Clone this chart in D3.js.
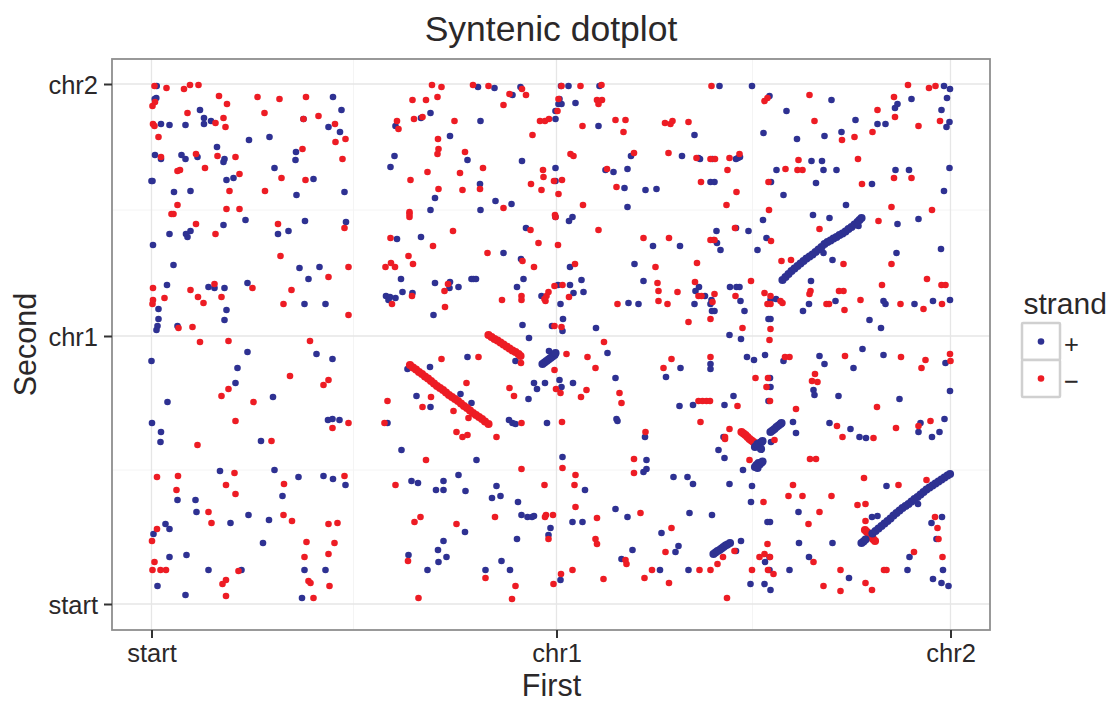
<!DOCTYPE html>
<html>
<head>
<meta charset="utf-8">
<script src="https://d3js.org/d3.v7.min.js"></script>
<style>
body { margin: 0; background: #fff; }
text { font-family: "Liberation Sans", Arial, sans-serif; }
</style>
</head>
<body>
<script>
const w = 1111
const h = 702

const xTickValues = [0, 405, 799]
const xTickLabels = ["start", "chr1", "chr2"]
const xMinorValues = [202, 601]
const yTickValues = [0, 268, 520]
const yTickLabels = ["start", "chr1", "chr2"]
const yMinorValues = [134, 394]
const strandLabels = ["+", "\u2212"]

// scattered hits, [first, second]
const plusHits = [
[5.2,518],[4.8,506],[3.2,505],[48.5,494],[52.5,486],[59.5,483],[52.5,480],[9.5,480],[18,479],[34,479],[152,485],[190,494],[181.5,507],[177,477],[188.5,472],[97.5,464],[118,467],[65.5,457],[3.5,449],[9.5,445],[30,449],[34,445],[46,447],[73,445],[72,442],[144.5,452],[144,444],[123,436],[75,424],[82,426],[162,425],[0,423],[1,423],[22.5,412],[39,413],[145,409],[193,412],[94,384],[72,379],[153.5,383],[194.5,382],[137,373],[126.5,370],[39,373],[18,370],[34.5,370],[36,367],[1.5,359],[22,339],[148,336],[168,337],[157,325],[15.5,319],[57,317],[63,316],[73,316],[96,321],[7,295],[75,294],[153,300],[174,300],[7,285],[73,284],[6,278],[5,274],[26,278],
[326.5,517],[343,516],[369,517],[361,509],[417,518],[409.5,518],[448,518],[408,505],[407,500],[410,500],[424,501],[404,493],[279,491],[269.5,486],[329,483],[404,485],[244,478],[447,478],[298.5,468],[243,448],[316,444],[370.5,443],[479.5,448],[530.5,448],[239,437],[404,436],[454,434],[462,432],[476,435],[404,423],[328.5,420],[473,416],[494,414],[505,415],[283.5,406],[344,403],[360,400],[279,394],[329,394],[476,397],[421,387],[417.5,383],[404,387],[374.5,376],[245.5,365],[269.5,367],[501.5,358],[528.5,358],[352,351],[369.5,345],[483,340],[418.5,337],[249.5,325],[320,325],[322,325],[324.5,325],[372,325],[430,324],[492,323],[283.5,321],[298.5,322],[298,316],[307,317],[365.5,317],[406.5,319],[418.5,319],[251,312],[261,311],[422,311],[432,312],[390,308],[234.5,308],[238.5,307],[244,306],[237,304],[409,300],[477,301],[487,300],[282,289],[411.5,285],[371,279],[400.5,278],[411,273],[444.5,276],[377.5,266],
[568,518],[600.5,518],[618,508],[680,504],[635,493],[746,500],[743.5,496],[760,505],[795.5,506],[798.5,515],[792.5,518],[790,494],[704,484],[726,480],[734,480],[798,482],[795,477],[612,471],[543,469],[645.5,465],[673,468],[690,472],[660,443],[670.5,443],[548.5,445],[547,446],[561,445],[584.5,445],[588.5,447],[586.5,446],[625,434],[672,434],[685,434],[744,434],[757.5,434],[798,436],[559,422],[563,422],[619.5,422],[664.5,421],[720.5,420],[792.5,413],[632,409],[694.5,399],[661.5,389],[678,386],[611.5,384],[767,385],[746,380],[584.5,376],[565,373],[597,373],[707,378],[615,366],[562,364],[565.5,361],[569,354],[606,354],[672,351],[745,351],[789.5,355],[681,344],[659.5,323],[547.5,317],[544,313],[578.5,317],[585,317],[588,317],[553.5,308],[560,304],[543,300],[589,303],[559,300],[619,304],[624.5,305],[657.5,300],[684,303],[732,303],[734,300],[763,300],[781.5,303],[798.5,304],[651.5,293],[593,293],[560.5,293],[563,293],[617,285],[619,285],[718,284],[729.5,276],[578,269],[589.5,265],
[96,252],[0,243],[86,236],[165,250],[181,245],[84,221],[121.5,207],[16,202],[0.5,181],[176.5,184],[181,185],[188,184],[9.5,172],[9,162],[109.5,163],[68.5,133],[123,134],[147,127],[172,128],[181.5,125],[194,119],[131,108],[26,104],[44,104],[45,92],[97,89],[117.5,84],[79,81],[14,80],[18,75],[2,70],[111.5,61],[35,49],[18,47],[57,34],[90,34],[153,34],[174,34],[6,18],[34,9],[150.5,6],
[316,247],[278.5,237],[256,235],[397.5,253],[456,251],[529,236],[514.5,227],[464,226],[408,224],[382.5,221],[393.5,221],[421.5,221],[410,217],[385.5,215],[265,208],[309,210],[377,205],[320,201],[279,197],[528,198],[465,185],[466,183],[357.5,184],[361,181],[364,180],[395.5,181],[236,181],[493.5,167],[250,154],[411,147],[495,144],[325,144],[495,135],[492,132],[307,129],[292,123],[260,123],[266.5,121],[522,127],[536,127],[345,118],[284.5,114],[292,114],[314,113],[433.5,114],[349,108],[340.5,106],[366.5,102],[464,95],[538,91],[370,89],[376,87],[380.5,87],[382.5,88],[476,87],[421,82],[431,82],[399,76],[313.5,72],[510,71],[397,69],[365.5,65],[292,63],[527,58],[286.5,54],[481,54],[524,52],[257,49],[295,47],[470,45],[350,43],[287,42],[276,34],[334,34],[358.5,34],[508.5,34],[537,34],[409,24],[364,243],[367,250],
[559,240],[559,235],[595.5,247],[602.5,244],[613.5,249],[632,243],[668,248],[673,240],[702,236],[711,255],[732,249],[794,241],[582,208],[618.5,226],[619,217],[662,214],[663,209],[687,208],[748,205],[798.5,213],[541.5,199],[573,199],[617,203],[641.5,182],[644.5,171],[678,181],[699,175],[708,167],[714.5,166],[767,172],[769,181],[780.5,167],[788,172],[793,185],[572,167],[567,154],[573,146],[619.5,162],[591.5,134],[541.5,120],[578,120],[600.5,118],[599.5,102],[647,92],[560.5,89],[618.5,82],[616,82],[735,118],[766.5,100],[720.5,87],[726,88],[790.5,87],[780,81],[785,65],[589.5,63],[647.5,61],[681,61],[584.5,53],[657.5,47],[758,47],[613.5,42],[618,47],[618,34],[638,34],[756,34],[791.5,34],[697.5,26],[599,20],[613,20],[619,14],[781.5,25],[790,21],[797,18]
]

const minusHits = [
[3,518],[15,516],[32.5,515],[38.5,519],[47,519],[67.5,508],[75.5,500],[106,507],[128,505],[154.5,507],[3.5,502],[1,498],[36,491],[113,491],[72,486],[64,481],[74,477],[1.5,480],[3,478],[152,485],[167,488],[183.5,480],[7,467],[184,462],[194,465],[44.5,450],[9.5,447],[66,448],[84,447],[151,455],[191,445],[53.5,436],[28.5,434],[26,433],[88,430],[130,426],[154,424],[78,413],[113.5,413],[26,399],[75,395],[88,395],[20,390],[22,390],[44.5,380],[126.5,380],[64,370],[193,376],[129,348],[197,337],[177,327],[1.5,316],[39,314],[63,320],[46.5,307],[70,307],[101,316],[140,314],[13,306],[1.5,304],[1,300],[52,301],[132,300],[197,289],[41,277],[27,276],
[280.5,519],[290,517],[321.5,519],[337,518],[370.5,515],[358,510],[374.5,509],[410,518],[429,518],[450,519],[286,507],[261,504],[274.5,504],[352,499],[407,505],[445.5,504],[450.5,504],[447,500],[406,493],[262.5,485],[271,487],[245.5,483],[247,475],[303,483],[388.5,483],[393.5,483],[397.5,485],[464,484],[474,484],[513.5,481],[519,480],[521,483],[537,482],[431,478],[472,472],[381,469],[286.5,465],[287,455],[286,450],[313.5,452],[419,450],[422,448],[482.5,451],[517,451],[331.5,436],[391.5,434],[392,427],[276,432],[308.5,431],[259,424],[455.5,435],[410.5,424],[402.5,423],[379.5,420],[287,415],[311,414],[328.5,415],[390,414],[407,410],[465,417],[352,396],[431.5,399],[258,392],[258,387],[258,390],[403.5,389],[404,387],[379,374],[447,374],[301.5,373],[239,366],[517.5,366],[492,366],[281.5,358],[387,361],[406.5,359],[336,351],[257,348],[239.5,341],[261.5,340],[234,337],[243.5,337],[371,343],[423.5,340],[382.5,337],[504,337],[506,321],[403,318],[411,319],[507,313],[526,312],[293,313],[296.5,320],[260.5,308],[397,312],[395,308],[393,305],[394,303],[370,308],[370,304],[350.5,304],[417.5,307],[507,303],[516,300],[466,300],[240.5,300],[293.5,297],[537,282],[403,278],[410,277],
[560,518],[756.5,519],[777.5,516],[784,518],[658,509],[616,506],[613,503],[742.5,507],[726,494],[743.5,487],[663,483],[788.5,483],[767,478],[721,472],[703,467],[690.5,464],[647,444],[706.5,445],[545,446],[559,445],[563.5,445],[578,446],[588,450],[576,434],[634,435],[646,434],[651,434],[549.5,422],[617,422],[742.5,426],[760,426],[710.5,420],[585,412],[575,399],[617.5,394],[740,397],[780.5,394],[727,383],[668,375],[583.5,376],[559,364],[563,364],[619.5,363],[630,343],[639.5,344],[692,340],[740,340],[545.5,341],[543.5,322],[599.5,323],[775.5,325],[790,319],[794,319],[730.5,319],[659,313],[658,310],[687.5,313],[692,313],[613,311],[619,308],[563,310],[584,308],[547,308],[550,308],[616,300],[619,300],[629,303],[631,301],[561,302],[675,300],[677.5,300],[709,304],[749,300],[772,295],[790.5,300],[693,294],[559,285],[591,276],[619,275],[618,264],
[48.5,262],[77,263],[158.5,263],[138.5,228],[177,224],[172,219],[77,215],[70,208],[102,202],[84,183],[197,181],[181,176],[120,163],[46,159],[193,128],[83,131],[5.5,127],[26.5,128],[74.5,119],[132.5,120],[25,114],[84,110],[57,92],[132,89],[60,81],[140.5,83],[177,80],[186,81],[5.5,75],[0.5,63],[155,62],[183,61],[177,50],[153,47],[3,42],[1,34],[9,34],[14.5,34],[87,33],[74.5,24],[71,20],[157,23],[159,21],[178,18],[74.5,8],[162,6],
[290,245],[327,247],[415,250],[436,247],[444,236],[520,245],[512,236],[403,234],[468,211],[470,201],[315,221],[358,216],[404.5,215],[409,211],[435,214],[429.5,207],[362.5,208],[279.5,207],[236,203],[271,197],[302,193],[317,186],[370,181],[410.5,182],[233,181],[494,172],[305,172],[311,167],[316,169],[345,167],[274.5,144],[482.5,145],[370,135],[411,136],[482.5,131],[424,129],[244,119],[393,119],[423,119],[424,97],[489,91],[343.5,87],[269,87],[263,82],[305,80],[394.5,89],[393.5,87],[401.5,89],[445.5,86],[520,76],[397,65],[444,65],[445.5,60],[514,52],[256.5,43],[474,44],[475,40],[421,34],[409.5,30],[500.5,34],[334,26],[452,25],[493,26],[364,18],[517.5,21],[402,20],[267,6],[360.5,5],[452.5,262],[369.5,241],
[559,247],[633.5,247],[638,247],[693.5,248],[749.5,247],[774,244],[798.5,250],[799,243],[770,236],[663.5,230],[660.5,223],[666,222],[604,226],[616.5,226],[615,217],[618.5,203],[547,203],[551,203],[555,203],[558.5,203],[586,198],[725.5,197],[644.5,195],[549,182],[578,175],[573.5,167],[573.5,165],[685.5,178],[691,167],[722,166],[744.5,176],[767,178],[779,183],[623,164],[598,144],[658.5,145],[664.5,145],[712.5,126],[775,124],[747,119],[641.5,119],[637,108],[651,108],[680,108],[612,102],[706,99],[714,100],[668,92],[657,80],[783.5,87],[714,83],[786,76],[787,65],[616,60],[762.5,52],[791,47],[571.5,47],[608,47],[613,50],[618.5,47],[662,42],[583,53],[566,40],[548,34],[559,34],[600.5,34],[616.5,34],[689,34],[732.5,34],[735,34],[622,30],[672,18],[714,21],[689,13],[720.5,14],[575.5,6]
]

// syntenic runs, these read as thick lines
const minusRuns = [
[258.5,239],[261.5,236.5],[264.5,234.5],[267.5,232],[270.5,230],[273.5,227.5],[276.5,225.5],[279.5,223],[282.5,220.5],[285.5,218],[288.5,216],[291.5,214],[294.5,211.5],[297.5,209],[300.5,207],[303.5,205],[306.5,203],[309.5,200.5],[312.5,198],[315.5,196],[318.5,193.5],[321.5,191],[324.5,189],[327.5,187],[330.5,185],[333.5,182.5],[337,180],
[337,269],[340,267],[343,265],[346,263.5],[349,261.5],[352,259.5],[355,257.5],[358,255.5],[361,253.5],[364,252],[367,250],[369,248],
[590,172],[592,170.5],[594,169],[596,167],[598,165],[600,163.5],[602,162],[604,160],
[713.5,74],[715.5,72],[717.5,70],[719.5,67.5],[721.5,65],[723.5,63]
]

const plusRuns = [
[391,240],[393,241.5],[395,243],[397,244.5],[399,246],[401,247.5],[403,249],[404,251],
[603.5,157],[605,158],[607,159],[609.5,155],[606,160],[608,161],[610,162],[611,163],
[603.5,137],[606,136],[605,139],[607,141],[608.5,140],[610,141.5],[611,142.5],
[619,172],[621,173.5],[623,175],[625,177],[627,178.5],[629,180],[630,181],
[562,50],[564,51.5],[566,53],[568,54],[570,55.5],[572,57],[574,58.5],[576,59.5],[578.5,61],
[710,61],[712,62.5],[714,64.5],
[721,70.5],[724,73],[727,75.5],[730,78],[733,80.5],[736,83],[739,85.5],[742,88.5],[745,91],[748,93.5],[751,96],[754,98],[757,100],[760,102.5],[763,105],[766,107],[769,109.5],[772,112],[775,114.5],[778,116.5],[781,118.5],[784,120.5],[787,122.5],[790,124.5],[793,126.5],[796,128.5],[798.5,130],
[631,324],[634,327],[637,330],[640,333],[643,335.5],[646,338],[649,340.5],[652,343],[655,345.5],[658,347.5],[661,349.5],[664,352],[667,354.5],[670,357],[673,360],[676,362],[679,363.5],[682,365.5],[685,367],[688,369],[691,370.5],[694,372.5],[697,375],[700,377],[703,379.5],[706,382],[708,384],[710,386]
]

const plusColor = "#2e3192"
const minusColor = "#ed1c24"
const textColor = "#2b2829"
const dotR = 3.3
const runR = 4.1

const panel = {left: 112, right: 990, top: 59, bottom: 630}

const x = d3.scaleLinear().domain([0, 799]).range([151.5, 950.5])
const y = d3.scaleLinear().domain([0, 520]).range([604, 84])

const svg = d3.select("body").append("svg")
	.attr("width", w).attr("height", h)
	.style("display", "block")

// grid first, minor under major
svg.append("g").selectAll("line")
	.data(xMinorValues)
	.join("line")
	.attr("x1", d => x(d)).attr("x2", d => x(d))
	.attr("y1", panel.top).attr("y2", panel.bottom)
	.attr("stroke", "#f4f4f4").attr("stroke-width", 1)

svg.append("g").selectAll("line")
	.data(yMinorValues)
	.join("line")
	.attr("x1", panel.left).attr("x2", panel.right)
	.attr("y1", d => y(d)).attr("y2", d => y(d))
	.attr("stroke", "#f4f4f4").attr("stroke-width", 1)

svg.append("g").selectAll("line")
	.data(xTickValues)
	.join("line")
	.attr("x1", d => x(d)).attr("x2", d => x(d))
	.attr("y1", panel.top).attr("y2", panel.bottom)
	.attr("stroke", "#e6e6e6").attr("stroke-width", 1.3)

svg.append("g").selectAll("line")
	.data(yTickValues)
	.join("line")
	.attr("x1", panel.left).attr("x2", panel.right)
	.attr("y1", d => y(d)).attr("y2", d => y(d))
	.attr("stroke", "#e6e6e6").attr("stroke-width", 1.3)

function dots(data, color, r) {
	svg.append("g").selectAll("circle")
		.data(data)
		.join("circle")
		.attr("cx", d => x(d[0]))
		.attr("cy", d => y(d[1]))
		.attr("r", r)
		.attr("fill", color)
}

dots(plusHits, plusColor, dotR)
dots(minusHits, minusColor, dotR)
dots(minusRuns, minusColor, runR)
dots(plusRuns, plusColor, runR)

// panel border
svg.append("rect")
	.attr("x", panel.left).attr("y", panel.top)
	.attr("width", panel.right - panel.left)
	.attr("height", panel.bottom - panel.top)
	.attr("fill", "none")
	.attr("stroke", "#8e8e8e").attr("stroke-width", 1.8)

const xAxis = svg.append("g")
	.attr("transform", `translate(0,${panel.bottom})`)
	.call(d3.axisBottom(x)
		.tickValues(xTickValues)
		.tickFormat((d, i) => xTickLabels[i])
		.tickSize(8).tickPadding(6))

const yAxis = svg.append("g")
	.attr("transform", `translate(${panel.left},0)`)
	.call(d3.axisLeft(y)
		.tickValues(yTickValues)
		.tickFormat((d, i) => yTickLabels[i])
		.tickSize(8).tickPadding(6))

for (const axis of [xAxis, yAxis]) {
	axis.select(".domain").remove()
	axis.selectAll("line").attr("stroke", "#333").attr("stroke-width", 2)
	axis.selectAll("text")
		.attr("fill", textColor)
		.style("font-family", '"Liberation Sans", Arial, sans-serif')
		.style("font-size", "25.5px")
}
yAxis.selectAll("text").attr("dy", "0.38em")

svg.append("text")
	.text("Syntenic dotplot")
	.attr("x", 551).attr("y", 41)
	.attr("text-anchor", "middle")
	.attr("font-size", "35.5px")
	.attr("fill", textColor)

svg.append("text")
	.text("First")
	.attr("x", 551.5).attr("y", 696)
	.attr("text-anchor", "middle")
	.attr("font-size", "30.5px")
	.attr("fill", textColor)

svg.append("text")
	.text("Second")
	.attr("transform", "translate(36,344.5) rotate(-90)")
	.attr("text-anchor", "middle")
	.attr("font-size", "30.5px")
	.attr("fill", textColor)

// legend
svg.append("text")
	.text("strand")
	.attr("x", 1023.5).attr("y", 314)
	.attr("font-size", "30px")
	.attr("fill", textColor)

const key = svg.append("g").selectAll("g")
	.data(strandLabels)
	.join("g")
	.attr("transform", (d, i) => `translate(1022,${323 + i * 37})`)

key.append("rect")
	.attr("width", 38).attr("height", 37)
	.attr("rx", 1)
	.attr("fill", "#fff")
	.attr("stroke", "#d0d0d0").attr("stroke-width", 2.5)

key.append("circle")
	.attr("cx", 19).attr("cy", 18.5)
	.attr("r", dotR)
	.attr("fill", (d, i) => i == 0 ? plusColor : minusColor)

key.append("text")
	.text(d => d)
	.attr("x", 42).attr("y", 30)
	.attr("font-size", "25.5px")
	.attr("fill", textColor)
</script>
</body>
</html>
